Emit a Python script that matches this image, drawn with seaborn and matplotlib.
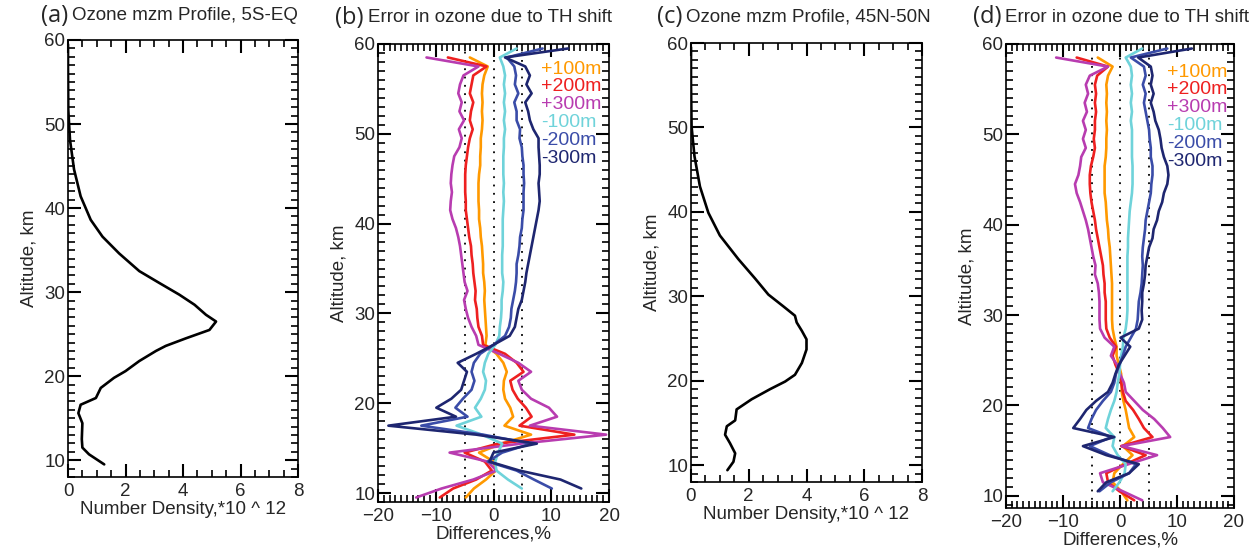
import numpy as np
import matplotlib
matplotlib.use("Agg")
import matplotlib.pyplot as plt
import seaborn as sns
from matplotlib.ticker import MultipleLocator

sns.set_theme(style="white", rc={"axes.edgecolor": "black", "axes.linewidth": 1.2})
plt.rcParams["font.family"] = ["Liberation Sans", "DejaVu Sans"]

# ---- ozone number density profiles (x 10^12) ----
alt_a = [9.5, 10.7, 11.5, 12.5, 14.4, 15.6, 16.6, 17.4, 18.6, 19.8, 20.6, 21.8, 23.0, 23.6,
         24.5, 25.5, 26.5, 27.3, 28.5, 29.7, 31.1, 32.5, 34.6, 36.6, 38.6, 41.4, 44.6, 48.1,
         51.7, 56.8, 59.5]
dens_a = [1.26, 0.73, 0.5, 0.48, 0.5, 0.36, 0.44, 0.97, 1.14, 1.6, 2.0, 2.48, 3.06, 3.4,
          4.1, 4.92, 5.15, 4.8, 4.4, 3.87, 3.17, 2.48, 1.78, 1.2, 0.79, 0.44, 0.21, 0.07,
          0.01, 0.0, 0.0]

alt_c = [9.4, 10.4, 11.4, 12.6, 13.6, 14.6, 15.3, 16.6, 17.8, 19.0, 19.9, 20.7, 22.1, 23.7,
         24.9, 25.9, 26.9, 27.7, 28.8, 30.2, 32.1, 34.4, 37.2, 39.9, 43.0, 46.6, 50.1, 55.3,
         59.5]
dens_c = [1.26, 1.47, 1.53, 1.35, 1.18, 1.24, 1.53, 1.58, 2.1, 2.74, 3.26, 3.6, 3.84, 4.0,
          4.0, 3.84, 3.66, 3.6, 3.2, 2.68, 2.22, 1.64, 1.0, 0.6, 0.31, 0.12, 0.02, 0.0, 0.0]

# ---- error in ozone due to tangent height shift (%) ----
alt_diff = [9.5, 10.5, 11.5, 12.5, 13.5, 14.5, 15.5, 16.5, 17.5, 18.5, 19.5, 20.5, 21.5,
            22.5, 23.5, 24.5, 25.5, 26.5, 27.5, 28.5, 29.5, 30.5, 31.5, 32.5, 33.5, 34.5,
            35.5, 36.5, 37.5, 38.5, 39.5, 40.5, 41.5, 42.5, 43.5, 44.5, 45.5, 46.5, 47.5,
            48.5, 49.5, 50.5, 51.5, 52.5, 53.5, 54.5, 55.5, 56.5, 57.5, 58.5, 59.5]
nan = np.nan

# panel (b) 5S-EQ
p100_b = [-4.8, -3.4, -1.3, 0.4, 0.0, -2.5, 1.4, 6.5, 1.9, 3.4, 2.9, 2.0, 1.7, 1.8, 2.3, 1.7,
          0.5, -1.4, -1.2, -1.3, -1.4, -1.5, -1.6, -1.5, -1.6, -1.8, -1.8, -1.9, -2.0, -2.2,
          -2.3, -2.5, -2.5, -2.6, -2.6, -2.6, -2.5, -2.3, -2.3, -2.2, -2.2, -2.0, -1.9, -2.0,
          -1.9, -2.0, -1.9, -1.6, -1.0, -4.1, nan]
p200_b = [-9.3, -7.0, -3.0, -0.3, -1.5, -5.0, 0.8, 14.0, 4.5, 6.6, 5.6, 4.2, 3.3, 2.9, 5.2,
          4.0, 2.0, -1.8, -2.0, -2.6, -2.8, -2.9, -3.2, -3.1, -3.3, -3.5, -3.6, -3.8, -3.9,
          -4.2, -4.4, -4.6, -4.8, -4.8, -4.9, -4.9, -4.9, -4.8, -4.6, -4.4, -4.1, -3.6, -4.1,
          -3.9, -3.5, -4.1, -3.8, -3.5, -1.2, -7.9, nan]
p300_b = [-13.4, -9.0, -3.5, 0.5, -1.0, -7.6, 4.7, 19.5, 6.3, 11.0, 9.6, 6.5, 4.9, 4.3, 6.5,
          4.3, 1.0, -2.6, -3.0, -3.8, -4.4, -4.8, -5.1, -4.5, -5.0, -5.2, -5.4, -5.6, -5.8,
          -6.1, -6.5, -7.1, -7.5, -7.4, -7.2, -7.4, -7.3, -7.1, -6.8, -5.9, -5.5, -6.0, -5.1,
          -5.9, -5.5, -6.1, -5.8, -5.2, -2.6, -11.6, nan]
m100_b = [nan, 4.9, 2.5, 0.5, 0.3, 0.8, 1.5, -2.0, -6.4, -2.1, -3.2, -2.2, -1.5, -1.3, -1.8,
          -1.5, -0.9, 0.3, 1.0, 1.1, 1.3, 1.4, 1.4, 1.6, 1.7, 1.5, 1.5, 1.5, 1.6, 1.6, 1.6,
          1.6, 1.7, 1.8, 1.7, 1.8, 1.7, 1.7, 1.7, 1.8, 1.8, 2.0, 1.8, 2.0, 1.8, 2.0, 1.8, 2.0,
          1.7, 1.1, 4.0]
m200_b = [nan, 10.1, 7.0, 4.0, -1.0, 1.5, 6.5, -1.8, -12.5, -4.5, -6.6, -5.3, -3.8, -3.3,
          -3.8, -3.4, -2.3, 0.0, 2.0, 2.7, 3.0, 3.1, 3.4, 3.7, 3.9, 4.0, 4.0, 4.3, 4.5, 4.6,
          4.9, 5.0, 5.2, 5.2, 5.2, 5.3, 5.2, 5.2, 5.0, 4.9, 4.5, 4.6, 4.0, 4.0, 3.6, 4.3, 3.7,
          3.9, 3.6, 2.3, 8.5]
m300_b = [nan, 15.2, 11.6, 4.5, -0.7, 0.0, 7.5, -3.0, -18.2, -6.5, -9.9, -7.3, -5.6, -5.1,
          -4.6, -6.2, -3.0, 0.0, 2.8, 3.7, 4.0, 4.3, 4.9, 5.2, 5.5, 5.7, 6.0, 6.3, 6.6, 6.9,
          7.2, 7.5, 7.8, 8.0, 7.9, 7.8, 8.0, 8.0, 7.9, 7.8, 7.8, 6.9, 6.3, 6.0, 5.5, 6.6, 5.7,
          6.3, 5.5, 2.0, 12.9]

# panel (d) 45N-50N
p100_d = [1.3, 0.2, -1.3, -1.0, 0.5, 2.2, 0.5, 2.5, 1.6, 1.3, 1.0, 0.6, 0.3, 0.3, 0.2, -0.2,
          -0.6, -0.6, -1.0, -1.3, -1.4, -1.4, -1.4, -1.4, -1.4, -1.5, -1.6, -1.7, -1.8, -2.0,
          -2.1, -2.3, -2.4, -2.5, -2.7, -2.7, -2.7, -2.7, -2.5, -2.4, -2.4, -2.3, -2.4, -2.3,
          -2.4, -2.3, -2.4, -2.1, -1.3, -3.9, nan]
p200_d = [2.5, -0.1, -2.1, -2.4, 1.0, 4.5, 0.2, 5.7, 4.2, 3.3, 2.3, 1.0, 0.5, 0.2, -0.1, -0.8,
          -1.3, -0.7, -1.8, -2.4, -2.5, -2.5, -2.5, -2.7, -2.7, -2.9, -3.0, -3.3, -3.6, -3.9,
          -4.2, -4.4, -4.7, -5.0, -5.2, -5.3, -5.3, -5.1, -4.7, -4.4, -4.6, -4.4, -4.4, -4.2,
          -4.4, -4.2, -4.4, -4.0, -2.1, -7.6, nan]
p300_d = [3.9, 0.5, -3.0, -3.5, 1.5, 6.5, 0.3, 8.8, 7.5, 6.0, 4.0, 2.5, 1.0, 0.7, 0.0, -0.5,
          -1.6, -1.0, -2.7, -3.5, -3.6, -3.6, -3.6, -3.7, -3.9, -4.4, -4.3, -4.7, -5.0, -5.3,
          -5.6, -6.0, -6.5, -7.0, -7.6, -7.9, -7.3, -7.0, -6.8, -6.0, -6.5, -6.0, -6.5, -5.8,
          -6.2, -5.6, -6.0, -5.3, -2.1, -11.2, nan]
m100_d = [nan, -1.3, -0.1, 0.8, 1.0, -0.4, -1.3, -1.0, -2.5, -2.1, -1.6, -1.0, -0.6, -0.4,
          -0.1, 0.0, 0.2, 0.5, 0.6, 1.0, 1.2, 1.3, 1.3, 1.3, 1.3, 1.3, 1.3, 1.3, 1.4, 1.4, 1.5,
          1.6, 1.7, 1.9, 2.1, 2.2, 2.2, 2.2, 2.1, 2.1, 2.1, 2.1, 1.9, 2.1, 1.9, 2.1, 1.9, 2.1,
          1.9, 1.0, 3.9]
m200_d = [nan, -3.6, -1.6, 1.6, 2.8, -1.8, -5.3, -1.5, -5.6, -5.0, -4.2, -3.0, -1.6, -1.0,
          -0.7, -0.1, 0.5, 1.0, 1.9, 2.8, 3.1, 3.2, 3.3, 3.6, 3.8, 3.9, 4.0, 3.9, 4.0, 4.2, 4.4,
          4.5, 4.8, 5.1, 5.4, 5.5, 5.7, 5.7, 5.4, 5.4, 5.2, 5.1, 4.8, 4.5, 4.2, 4.5, 4.0, 4.5,
          4.2, 1.9, 8.3]
m300_d = [nan, -3.9, -2.4, 1.6, 3.3, -2.4, -6.5, -1.0, -8.2, -7.0, -5.9, -4.2, -2.1, -1.3,
          -0.8, -0.2, 0.8, 1.8, 0.1, 3.3, 3.9, 3.8, 3.9, 3.9, 4.2, 4.4, 4.5, 4.8, 5.1, 5.7, 5.9,
          6.5, 6.8, 7.4, 7.7, 8.3, 8.5, 8.3, 7.7, 7.3, 7.1, 6.8, 6.2, 5.9, 5.4, 5.9, 5.4, 5.7,
          5.4, 3.2, 12.6]

shift_labels = ["+100m", "+200m", "+300m", "-100m", "-200m", "-300m"]
shift_colors = ["#ff9900", "#ee2020", "#b83cb0", "#6fd3da", "#3a4ca8", "#1e2670"]

W, H = 1255, 556
fig = plt.figure(figsize=(W / 100, H / 100), dpi=100)


def add_ax(left, top, right, bottom):
    return fig.add_axes([left / W, 1 - bottom / H, (right - left) / W, (bottom - top) / H])


def style_ax(ax, xmaj, xmin, xlim, ylim, xlabel):
    ax.set_xlim(*xlim)
    ax.set_ylim(*ylim)
    ax.xaxis.set_major_locator(MultipleLocator(xmaj))
    ax.xaxis.set_minor_locator(MultipleLocator(xmin))
    ax.yaxis.set_major_locator(MultipleLocator(10))
    ax.yaxis.set_minor_locator(MultipleLocator(1))
    ax.tick_params(which="both", direction="in", top=True, right=True,
                   bottom=True, left=True, color="black")
    ax.tick_params(which="major", length=9.5, width=1.5)
    ax.tick_params(which="minor", length=4.8, width=1.2)
    ax.tick_params(axis="y", which="major", pad=2, labelsize=13.5)
    ax.tick_params(axis="x", which="major", pad=4, labelsize=13.5)
    ax.set_xlabel(xlabel, fontsize=13.5, labelpad=1)
    ax.set_ylabel("Altitude, km", fontsize=13.5, labelpad=5)


def profile_panel(ax, alt, dens):
    sns.lineplot(x=dens, y=alt, sort=False, estimator=None, color="black", lw=1.9, ax=ax)
    style_ax(ax, 2, 0.5, (0, 8), (8, 60), "Number Density,*10 ^ 12")


def diff_panel(ax, series, ylim, leg_y):
    for xl in [-5, 0, 5]:
        ax.axvline(xl, color="black", lw=1.3, ls=(0, (1.0, 3.6)), zorder=1)
    for vals, col in zip(series, shift_colors):
        sns.lineplot(x=vals, y=alt_diff, sort=False, estimator=None, color=col, lw=1.9, ax=ax)
    for i, (lab, col) in enumerate(zip(shift_labels, shift_colors)):
        ax.text(8.2, leg_y - 1.98 * i, lab, color=col, fontsize=14, ha="left", va="center")
    style_ax(ax, 10, 1, (-20, 20), ylim, "Differences,%")


ax_a = add_ax(68, 40, 298, 477)
profile_panel(ax_a, alt_a, dens_a)
ax_b = add_ax(378, 44, 609, 502)
diff_panel(ax_b, [p100_b, p200_b, p300_b, m100_b, m200_b, m300_b], (9, 60), 57.2)
ax_c = add_ax(691, 43, 922, 482)
profile_panel(ax_c, alt_c, dens_c)
ax_d = add_ax(1006, 44, 1234, 508)
diff_panel(ax_d, [p100_d, p200_d, p300_d, m100_d, m200_d, m300_d], (8.65, 60), 56.9)

# panel titles: tag right-aligned just before the title text
titles = [("(a)", "Ozone mzm Profile, 5S-EQ", 72, 16),
          ("(b)", "Error in ozone due to TH shift", 368, 18),
          ("(c)", "Ozone mzm Profile, 45N-50N", 686, 17),
          ("(d)", "Error in ozone due to TH shift", 1005, 17)]
for tag, txt, sx, sy in titles:
    fig.text((sx - 4) / W, 1 - sy / H, tag, fontsize=17, family=["Open Sans", "DejaVu Sans"],
             va="center", ha="right")
    fig.text(sx / W, 1 - sy / H, txt, fontsize=13.5, va="center", ha="left")

fig.savefig("out.png", dpi=100, facecolor="white")
